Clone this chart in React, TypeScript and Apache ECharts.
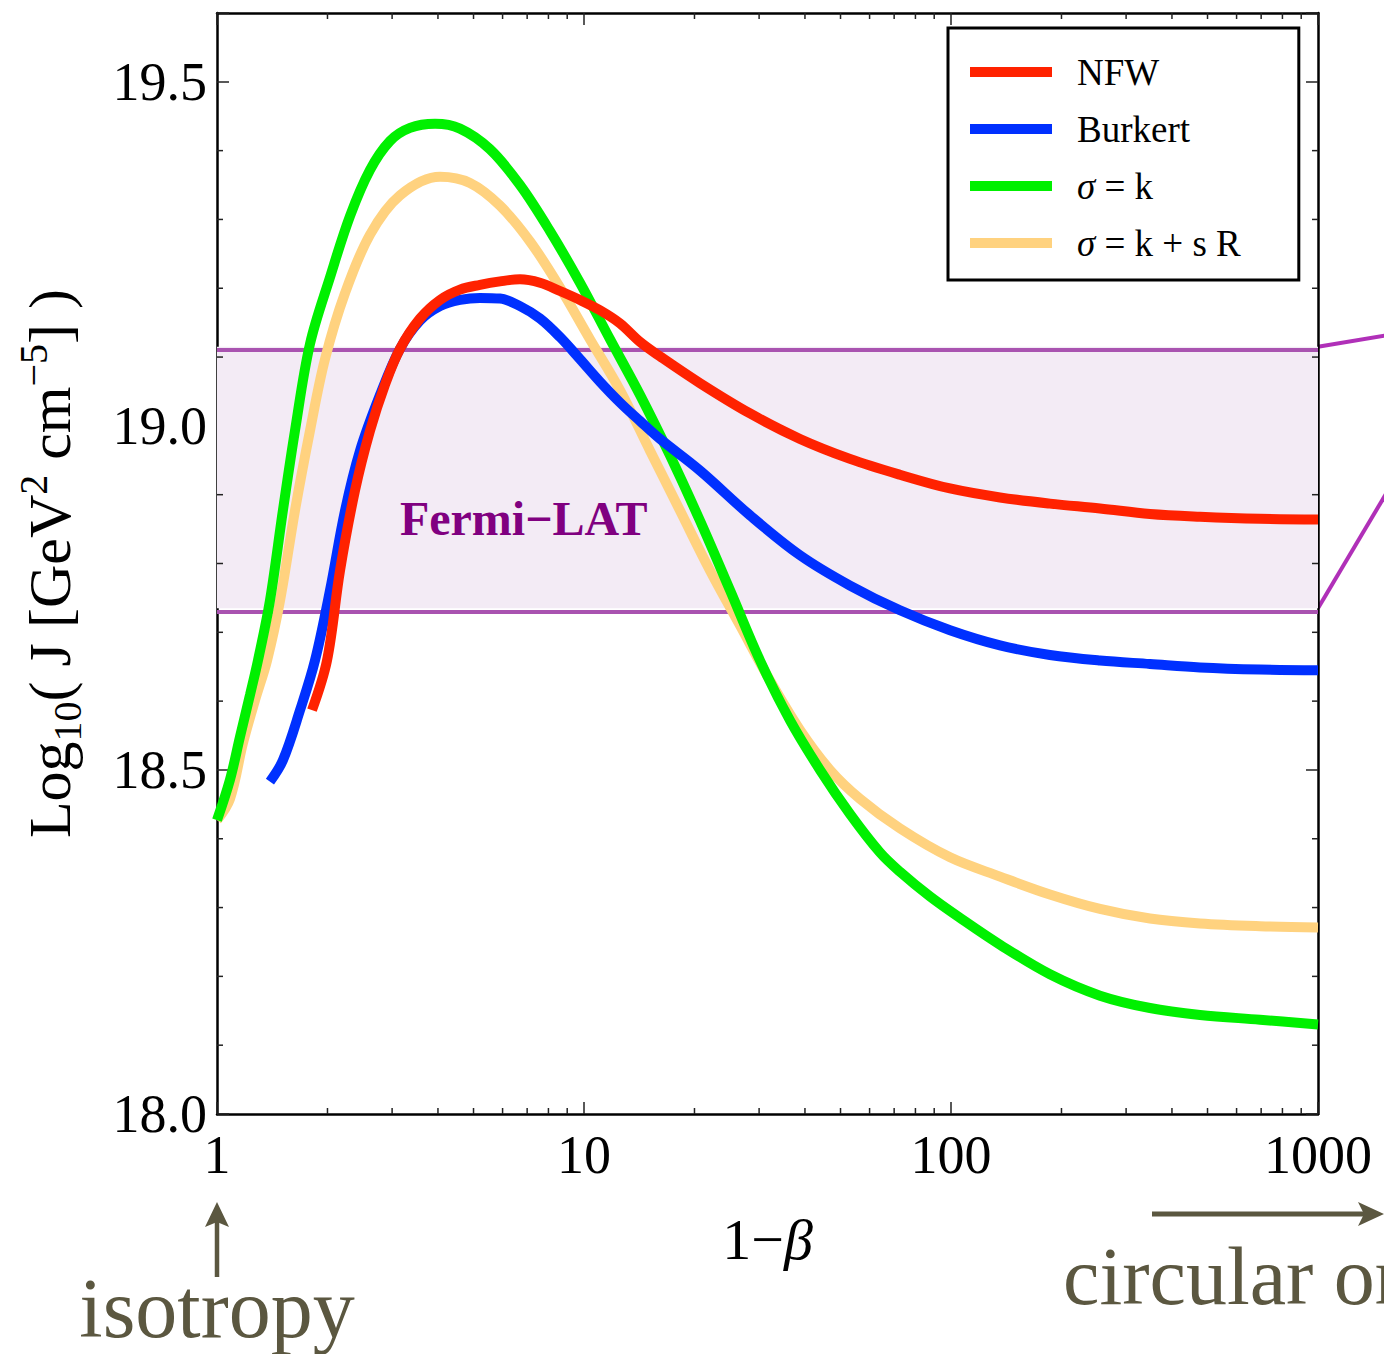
import { useEffect, useRef } from "react";
import * as echarts from "echarts";

// Curves: J-factor vs anisotropy (1 - beta)
const nfwX = [1.815, 1.994, 2.164, 2.377, 2.612, 2.87, 3.152, 3.574, 4.052, 4.593, 5.207, 5.904, 6.693, 7.588, 8.603, 9.75, 11.06, 12.53, 14.21, 16.11, 20.71, 28.34, 38.78, 53.06, 72.6, 99.4, 136, 186, 254.7, 348.5, 477, 695, 1000];
const nfwY = [18.587, 18.659, 18.79, 18.906, 18.993, 19.06, 19.112, 19.156, 19.183, 19.198, 19.205, 19.21, 19.213, 19.208, 19.196, 19.183, 19.168, 19.149, 19.122, 19.101, 19.062, 19.018, 18.981, 18.952, 18.929, 18.909, 18.896, 18.887, 18.88, 18.872, 18.868, 18.865, 18.864];

const burkertX = [1.394, 1.512, 1.684, 1.849, 2.032, 2.233, 2.453, 2.781, 3.152, 3.574, 4.052, 4.593, 5.207, 5.904, 6.693, 7.588, 8.603, 9.75, 11.06, 12.53, 14.21, 16.11, 20.71, 28.34, 38.78, 53.06, 72.6, 99.4, 136, 186, 254.7, 348.5, 477, 695, 1000];
const burkertY = [18.483, 18.514, 18.587, 18.659, 18.761, 18.877, 18.964, 19.045, 19.112, 19.153, 19.174, 19.183, 19.186, 19.185, 19.174, 19.156, 19.129, 19.097, 19.064, 19.034, 19.007, 18.981, 18.935, 18.87, 18.812, 18.768, 18.732, 18.703, 18.681, 18.667, 18.659, 18.654, 18.649, 18.646, 18.645];

const sigmaKX = [1, 1.085, 1.155, 1.23, 1.293, 1.394, 1.512, 1.631, 1.792, 2.032, 2.304, 2.612, 2.961, 3.357, 3.927, 4.593, 5.545, 6.693, 8.08, 9.75, 11.77, 14.21, 17.15, 20.71, 25.0, 30.17, 36.42, 43.96, 53.06, 64.06, 72.6, 87.7, 105.8, 136, 186, 254.7, 348.5, 477, 695, 1000];
const sigmaKY = [18.427, 18.486, 18.548, 18.609, 18.659, 18.746, 18.877, 18.993, 19.119, 19.216, 19.305, 19.372, 19.414, 19.433, 19.439, 19.432, 19.402, 19.35, 19.283, 19.208, 19.126, 19.045, 18.957, 18.862, 18.761, 18.659, 18.572, 18.5, 18.436, 18.38, 18.352, 18.316, 18.285, 18.246, 18.203, 18.172, 18.154, 18.144, 18.137, 18.13];

const sigmaKsRX = [1, 1.085, 1.177, 1.269, 1.369, 1.485, 1.631, 1.792, 1.969, 2.233, 2.612, 3.152, 4.052, 4.89, 5.904, 7.127, 8.603, 10.38, 12.53, 15.13, 18.26, 22.04, 26.61, 32.12, 38.78, 46.81, 56.5, 72.6, 99.4, 136, 186, 254.7, 348.5, 477, 695, 1000];
const sigmaKsRY = [18.427, 18.458, 18.539, 18.601, 18.659, 18.746, 18.877, 18.993, 19.097, 19.193, 19.278, 19.335, 19.362, 19.353, 19.32, 19.268, 19.201, 19.126, 19.052, 18.964, 18.877, 18.79, 18.71, 18.63, 18.558, 18.5, 18.458, 18.415, 18.373, 18.345, 18.319, 18.298, 18.284, 18.277, 18.273, 18.271];

// Fermi-LAT band (lower, upper)
const fermiBand = [18.735, 19.115];
const fermiLabel = "Fermi\u2212LAT";
const fermiLabelAt = [3.15, 18.865];

// Axes
const xMin = 1;
const xMax = 1000;
const yMin = 18.0;
const yMax = 19.6;
const yStep = 0.5;
const xMinorTicks = [2, 3, 4, 5, 6, 7, 8, 9, 20, 30, 40, 50, 60, 70, 80, 90, 200, 300, 400, 500, 600, 700, 800, 900];
const yMinorTicks = [18.1, 18.2, 18.3, 18.4, 18.6, 18.7, 18.8, 18.9, 19.1, 19.2, 19.3, 19.4];

const legendNames = ["NFW", "Burkert", "\u03c3 = k", "\u03c3 = k + s R"];
const colors = ["#ff2200", "#0030ff", "#00f000", "#ffd27f"];

const FONT = "'Liberation Serif', 'Times New Roman', serif";
const NOTE_COLOR = "#5b5740";

function zip(xs: number[], ys: number[]) {
  return xs.map((x, i) => [x, ys[i]]);
}

function minorTickSeries(values: number[], dir: "x" | "y") {
  return {
    type: "custom",
    silent: true,
    clip: false,
    z: 20,
    data: values.map((v) => (dir === "x" ? [v, yMin] : [xMin, v])),
    renderItem: (params: any, api: any) => {
      const cs = params.coordSys;
      const p = api.coord([api.value(0), api.value(1)]);
      const style = { stroke: "#222", lineWidth: 1.5 };
      const len = 6;
      if (dir === "x") {
        const bottom = cs.y + cs.height;
        return {
          type: "group",
          children: [
            { type: "line", shape: { x1: p[0], y1: bottom, x2: p[0], y2: bottom - len }, style },
            { type: "line", shape: { x1: p[0], y1: cs.y, x2: p[0], y2: cs.y + len }, style },
          ],
        };
      }
      const right = cs.x + cs.width;
      return {
        type: "group",
        children: [
          { type: "line", shape: { x1: cs.x, y1: p[1], x2: cs.x + len, y2: p[1] }, style },
          { type: "line", shape: { x1: right, y1: p[1], x2: right - len, y2: p[1] }, style },
        ],
      };
    },
  };
}

function lineSeries(name: string, data: number[][], color: string, z: number) {
  return {
    name,
    type: "line",
    data,
    color,
    z,
    showSymbol: false,
    symbol: "none",
    smooth: 0.35,
    lineStyle: { color, width: 10 },
    itemStyle: { color },
  };
}

const axisLineStyle = { color: "#000", width: 2.5 };
const tickStyle = { color: "#222", width: 1.5 };

export default function App() {
  const ref = useRef<HTMLDivElement>(null);

  useEffect(() => {
    if (!ref.current) return;
    const chart = echarts.init(ref.current, undefined, { renderer: "svg" });

    const baseX = {
      type: "log",
      logBase: 10,
      min: xMin,
      max: xMax,
      splitLine: { show: false },
      axisLine: { show: true, lineStyle: axisLineStyle },
      axisTick: { show: true, inside: true, length: 12, lineStyle: tickStyle },
      minorTick: { show: false },
    };
    const baseY = {
      type: "value",
      min: yMin,
      max: yMax,
      interval: yStep,
      splitLine: { show: false },
      axisLine: { show: true, lineStyle: axisLineStyle },
      axisTick: { show: true, inside: true, length: 12, lineStyle: tickStyle },
    };

    const option: any = {
      animation: false,
      backgroundColor: "#fff",
      grid: { left: 217, right: 66, top: 13, bottom: 240, containLabel: false },
      legend: {
        data: legendNames,
        orient: "vertical",
        left: 948,
        top: 28,
        padding: [24, 58, 17, 22],
        itemWidth: 82,
        itemHeight: 10,
        itemGap: 17,
        icon: "rect",
        borderColor: "#000",
        borderWidth: 3,
        selectedMode: false,
        textStyle: {
          color: "#000",
          fontFamily: FONT,
          fontSize: 37,
          lineHeight: 40,
          padding: [0, 0, 0, 20],
          rich: {
            n: { fontFamily: FONT, fontSize: 37, color: "#000" },
            i: { fontFamily: FONT, fontSize: 37, fontStyle: "italic", color: "#000" },
          },
        },
        formatter: (name: string) =>
          name.startsWith("\u03c3") ? `{i|\u03c3}{n|${name.slice(1)}}` : `{n|${name}}`,
      },
      xAxis: [
        {
          ...baseX,
          position: "bottom",
          axisLabel: {
            show: true,
            fontFamily: FONT,
            fontSize: 54,
            color: "#000",
            margin: 14,
            formatter: (v: number) => String(Math.round(v)),
          },
          name: "{n|1\u2212}{i|\u03b2}",
          nameLocation: "middle",
          nameGap: 96,
          nameTextStyle: {
            rich: {
              n: { fontFamily: FONT, fontSize: 58, color: "#000" },
              i: { fontFamily: FONT, fontSize: 58, fontStyle: "italic", color: "#000" },
            },
          },
        },
        { ...baseX, position: "top", axisLabel: { show: false } },
      ],
      yAxis: [
        {
          ...baseY,
          position: "left",
          axisLabel: {
            show: true,
            fontFamily: FONT,
            fontSize: 54,
            color: "#000",
            margin: 10,
            formatter: (v: number) =>
              Math.abs(v / yStep - Math.round(v / yStep)) < 1e-6 ? v.toFixed(1) : "",
          },
          name: "{n|Log}{sub|10}{n|( J [GeV}{sup|2}{n| cm}{sup|\u22125}{n|] )}",
          nameLocation: "middle",
          nameRotate: 90,
          nameGap: 130,
          nameTextStyle: {
            lineHeight: 74,
            rich: {
              n: { fontFamily: FONT, fontSize: 60, color: "#000", lineHeight: 74 },
              sub: { fontFamily: FONT, fontSize: 40, color: "#000", lineHeight: 44, verticalAlign: "bottom" },
              sup: { fontFamily: FONT, fontSize: 40, color: "#000", lineHeight: 44, verticalAlign: "top" },
            },
          },
        },
        { ...baseY, position: "right", axisLabel: { show: false } },
      ],
      series: [
        {
          name: "Fermi-LAT band",
          type: "line",
          data: [],
          z: 1,
          silent: true,
          markArea: {
            silent: true,
            z: 1,
            itemStyle: { color: "#f3ebf5", borderWidth: 0 },
            data: [[{ yAxis: fermiBand[0] }, { yAxis: fermiBand[1] }]],
          },
          markLine: {
            silent: true,
            z: 1,
            symbol: ["none", "none"],
            label: { show: false },
            lineStyle: { color: "#a953b0", width: 4, type: "solid" },
            data: [{ yAxis: fermiBand[0] }, { yAxis: fermiBand[1] }],
          },
        },
        lineSeries(legendNames[3], zip(sigmaKsRX, sigmaKsRY), colors[3], 3),
        lineSeries(legendNames[2], zip(sigmaKX, sigmaKY), colors[2], 4),
        lineSeries(legendNames[1], zip(burkertX, burkertY), colors[1], 5),
        lineSeries(legendNames[0], zip(nfwX, nfwY), colors[0], 6),
        minorTickSeries(xMinorTicks, "x"),
        minorTickSeries(yMinorTicks, "y"),
      ],
    };

    chart.setOption(option);

    // Annotations anchored to the axes
    const toPx = (x: number, y: number) =>
      chart.convertToPixel({ xAxisIndex: 0, yAxisIndex: 0 }, [x, y]) as number[];
    const labelPos = toPx(fermiLabelAt[0], fermiLabelAt[1]);
    const bandHi = toPx(xMax, fermiBand[1]);
    const bandLo = toPx(xMax, fermiBand[0]);
    const origin = toPx(xMin, yMin);
    const plotRight = bandHi[0];
    const plotBottom = origin[1];
    const outStyle = { stroke: "#b030b8", lineWidth: 4 };

    chart.setOption({
      graphic: [
        {
          type: "text",
          x: labelPos[0],
          y: labelPos[1],
          z: 10,
          silent: true,
          style: {
            text: fermiLabel,
            fontFamily: FONT,
            fontSize: 48,
            fontWeight: "bold",
            fill: "#800080",
            align: "left",
            verticalAlign: "middle",
          },
        },
        {
          type: "line",
          silent: true,
          shape: { x1: bandHi[0], y1: bandHi[1], x2: bandHi[0] + 132, y2: bandHi[1] - 22 },
          style: outStyle,
        },
        {
          type: "line",
          silent: true,
          shape: { x1: bandLo[0], y1: bandLo[1], x2: bandLo[0] + 132, y2: bandLo[1] - 222 },
          style: outStyle,
        },
        // isotropy arrow
        {
          type: "line",
          silent: true,
          shape: { x1: origin[0], y1: plotBottom + 163, x2: origin[0], y2: plotBottom + 108 },
          style: { stroke: NOTE_COLOR, lineWidth: 4.5 },
        },
        {
          type: "polygon",
          silent: true,
          shape: {
            points: [
              [origin[0], plotBottom + 88],
              [origin[0] - 12, plotBottom + 113],
              [origin[0], plotBottom + 108],
              [origin[0] + 12, plotBottom + 113],
            ],
          },
          style: { fill: NOTE_COLOR },
        },
        {
          type: "text",
          x: origin[0],
          y: plotBottom + 236,
          silent: true,
          style: {
            text: "isotropy",
            fontFamily: FONT,
            fontSize: 84,
            fill: NOTE_COLOR,
            align: "center",
            verticalAlign: "bottom",
          },
        },
        // circular orbits arrow
        {
          type: "line",
          silent: true,
          shape: { x1: plotRight - 166, y1: plotBottom + 100, x2: plotRight + 48, y2: plotBottom + 100 },
          style: { stroke: NOTE_COLOR, lineWidth: 5 },
        },
        {
          type: "polygon",
          silent: true,
          shape: {
            points: [
              [plotRight + 66, plotBottom + 100],
              [plotRight + 40, plotBottom + 88],
              [plotRight + 46, plotBottom + 100],
              [plotRight + 40, plotBottom + 112],
            ],
          },
          style: { fill: NOTE_COLOR },
        },
        {
          type: "text",
          x: plotRight - 255,
          y: plotBottom + 203,
          silent: true,
          style: {
            text: "circular orbits",
            fontFamily: FONT,
            fontSize: 82,
            fill: NOTE_COLOR,
            align: "left",
            verticalAlign: "bottom",
          },
        },
      ],
    });

    return () => chart.dispose();
  }, []);

  return (
    <div
      ref={ref}
      style={{ position: "absolute", left: 0, top: 0, width: 1384, height: 1354, overflow: "hidden", background: "#fff" }}
    />
  );
}
